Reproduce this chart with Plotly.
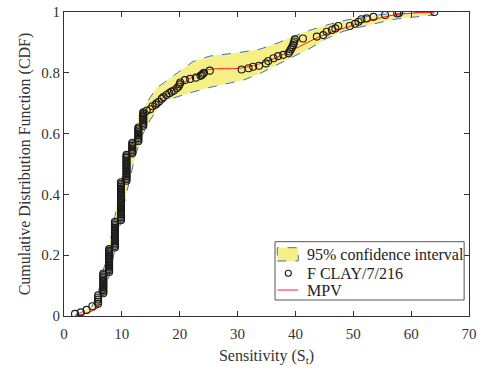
import plotly.graph_objects as go

# Observed data points (sensitivity, empirical CDF)
obs_x = [1.9, 2.9, 3.9, 4.9,
         5.9, 5.9, 5.9, 5.9, 5.9,
         6.8, 6.8, 6.8, 6.8, 6.8, 6.8, 6.8, 6.8, 6.8, 6.8, 6.8, 6.8, 6.8, 6.8,
         7.8, 7.8, 7.8, 7.8, 7.8, 7.8, 7.8, 7.8, 7.8, 7.8, 7.8, 7.8, 7.8, 7.8, 7.8, 7.8,
         8.8, 8.8, 8.8, 8.8, 8.8, 8.8, 8.8, 8.8, 8.8, 8.8, 8.8, 8.8, 8.8, 8.8, 8.8, 8.8, 8.8, 8.8,
         9.85, 9.85, 9.85, 9.85, 9.85, 9.85, 9.85, 9.85, 9.85, 9.85, 9.85, 9.85, 9.85,
         9.85, 9.85, 9.85, 9.85, 9.85, 9.85, 9.85, 9.85, 9.85, 9.85, 9.85, 9.85, 9.85,
         10.8, 10.8, 10.8, 10.8, 10.8, 10.8, 10.8, 10.8, 10.8, 10.8, 10.8, 10.8, 10.8, 10.8, 10.8, 10.8, 10.8, 10.8,
         11.8, 11.8, 11.8, 11.8, 11.8, 11.8, 11.8, 11.8,
         12.85, 12.85, 12.85, 12.85, 12.85, 12.85, 12.85, 12.85, 12.85, 12.85,
         13.7, 13.7, 13.7, 13.7, 13.7, 13.7, 13.7, 13.7, 13.7, 13.7,
         14.3, 14.9, 15.3, 15.8, 16.0, 16.4, 16.9, 17.2, 17.7, 18.2, 18.6, 19.0,
         19.5, 19.8, 20.0, 20.1, 20.9, 21.8, 22.8, 23.6, 23.8, 24.0, 24.2, 25.2,
         30.7, 31.9, 32.7, 33.7, 34.9, 35.3, 36.2, 37.0, 37.9,
         38.8, 39.0, 39.2, 39.4, 39.6, 39.7, 39.8, 39.9,
         41.3, 43.7, 44.8, 45.4, 46.3, 46.9, 47.4, 49.4, 50.3, 50.9, 51.4, 52.3,
         53.5, 55.5, 57.6, 57.9, 64.0]
obs_y = [0.007, 0.012, 0.020, 0.032,
         0.040, 0.047, 0.054, 0.061, 0.068,
         0.075, 0.080, 0.085, 0.090, 0.095, 0.100, 0.105, 0.110, 0.115, 0.120, 0.125, 0.130, 0.135, 0.140,
         0.145, 0.150, 0.155, 0.160, 0.165, 0.170, 0.175, 0.180, 0.185, 0.190, 0.195, 0.200, 0.205, 0.210, 0.215, 0.220,
         0.225, 0.230, 0.235, 0.240, 0.245, 0.250, 0.255, 0.260, 0.265, 0.270, 0.275, 0.280, 0.285, 0.290, 0.295, 0.300, 0.305, 0.310,
         0.315, 0.320, 0.325, 0.330, 0.335, 0.340, 0.345, 0.350, 0.355, 0.360, 0.365, 0.370, 0.375,
         0.380, 0.385, 0.390, 0.395, 0.400, 0.405, 0.410, 0.415, 0.420, 0.425, 0.430, 0.435, 0.440,
         0.445, 0.450, 0.455, 0.460, 0.465, 0.470, 0.475, 0.480, 0.485, 0.490, 0.495, 0.500, 0.505, 0.510, 0.515, 0.520, 0.525, 0.530,
         0.535, 0.540, 0.545, 0.550, 0.555, 0.560, 0.565, 0.570,
         0.575, 0.580, 0.585, 0.590, 0.595, 0.600, 0.605, 0.610, 0.615, 0.620,
         0.625, 0.630, 0.635, 0.640, 0.645, 0.650, 0.655, 0.660, 0.665, 0.670,
         0.675, 0.680, 0.690, 0.695, 0.700, 0.705, 0.715, 0.720, 0.727, 0.733, 0.738, 0.742,
         0.749, 0.755, 0.762, 0.768, 0.776, 0.780, 0.784, 0.790, 0.793, 0.797, 0.800, 0.807,
         0.811, 0.815, 0.820, 0.823, 0.831, 0.839, 0.848, 0.855, 0.859,
         0.864, 0.870, 0.877, 0.884, 0.891, 0.897, 0.903, 0.910,
         0.913, 0.919, 0.924, 0.935, 0.941, 0.946, 0.954, 0.954, 0.961, 0.968, 0.976, 0.979,
         0.984, 0.990, 0.995, 0.997, 1.000]

# Most probable value curve
mpv_x = [1.9, 3.0, 4.0, 5.0, 5.9, 6.8, 7.95, 9.1, 9.97, 10.8, 11.7, 12.85, 14.3,
         16.6, 19.5, 22.3, 25.2, 30.4, 35.0, 39.6, 44.2, 48.9, 57.0, 64.0]
mpv_y = [0.0, 0.004, 0.01, 0.018, 0.03, 0.107, 0.195, 0.283, 0.392, 0.48, 0.568, 0.60, 0.66,
         0.71, 0.752, 0.787, 0.811, 0.815, 0.837, 0.876, 0.919, 0.95, 0.99, 0.999]

# 95% confidence bounds
up_x = [1.9, 2.8, 4.8, 5.9, 6.8, 7.95, 8.8, 9.7, 10.8, 12.0, 12.85, 13.4, 16.0, 19.5,
        22.3, 25.2, 30.4, 33.9, 36.8, 39.6, 42.5, 45.4, 48.2, 51.1, 54.0, 57.0, 63.8]
up_y = [0.004, 0.01, 0.03, 0.075, 0.15, 0.24, 0.327, 0.425, 0.525, 0.577, 0.654, 0.676, 0.75, 0.80,
        0.837, 0.855, 0.867, 0.878, 0.897, 0.919, 0.94, 0.957, 0.971, 0.982, 0.99, 0.995, 1.0]
lo_x = [1.9, 2.8, 5.1, 6.2, 7.4, 8.2, 9.4, 10.3, 11.2, 12.3, 13.4, 14.9, 16.6, 17.7,
        19.5, 22.3, 25.2, 28.1, 31.0, 33.9, 36.8, 39.6, 42.5, 45.4, 48.2, 51.1, 57.0, 63.8]
lo_y = [0.0, 0.003, 0.015, 0.042, 0.097, 0.16, 0.27, 0.36, 0.436, 0.525, 0.59, 0.645, 0.694, 0.71,
        0.721, 0.737, 0.752, 0.765, 0.776, 0.798, 0.826, 0.853, 0.88, 0.913, 0.936, 0.95, 0.976, 0.99]

x_ticks = [0, 10, 20, 30, 40, 50, 60, 70]
y_ticks = [0, 0.2, 0.4, 0.6, 0.8, 1]
y_ticktext = ["0", "0.2", "0.4", "0.6", "0.8", "1"]

legend_labels = ["95% confidence interval", "F CLAY/7/216", "MPV"]

FONT = "Liberation Serif, Times New Roman, serif"
FILL = "#f6ef86"
DASH = "#3f6fc6"
RED = "#ff2020"

fig = go.Figure()
fig.add_trace(go.Scatter(
    x=up_x + lo_x[::-1], y=up_y + lo_y[::-1],
    fill="toself", fillcolor=FILL,
    line=dict(color=DASH, width=1, dash="dash"),
    mode="lines", name=legend_labels[0], showlegend=False, hoverinfo="skip"))
fig.add_trace(go.Scatter(
    x=mpv_x, y=mpv_y, mode="lines", name=legend_labels[2], line_shape="spline",
    line=dict(color=RED, width=1), showlegend=False))
fig.add_trace(go.Scatter(
    x=obs_x, y=obs_y, mode="markers", name=legend_labels[1], showlegend=False,
    marker=dict(symbol="circle-open", size=7, color="#1a1a1a", line=dict(width=1.1))))

axis_common = dict(showline=True, linecolor="#333333", linewidth=1, mirror="ticks",
                   ticks="inside", ticklen=5, tickcolor="#333333", showgrid=False,
                   zeroline=False, automargin=False, ticklabeloverflow="allow",
                   tickfont=dict(family=FONT, size=15, color="#333333"))

# Manual legend (paper coordinates)
shapes = [
    dict(type="rect", xref="paper", yref="paper", x0=0.521, x1=0.988, y0=0.0526, y1=0.2444,
         line=dict(color="#555555", width=1), fillcolor="white", layer="above"),
    dict(type="rect", xref="paper", yref="paper", x0=0.5267, x1=0.5785, y0=0.181, y1=0.2247,
         line=dict(color=DASH, width=1, dash="dash"), fillcolor=FILL, layer="above"),
    dict(type="circle", xref="paper", yref="paper", x0=0.5538 - 0.0075, x1=0.5538 + 0.0075,
         y0=0.1405 - 0.0099, y1=0.1405 + 0.0099,
         line=dict(color="#1a1a1a", width=1.1), layer="above"),
    dict(type="line", xref="paper", yref="paper", x0=0.5267, x1=0.5785, y0=0.0855, y1=0.0855,
         line=dict(color=RED, width=1), layer="above"),
]
annotations = [
    dict(xref="paper", yref="paper", x=0.595, y=yy, text=t, showarrow=False,
         xanchor="left", yanchor="middle", font=dict(family=FONT, size=16, color="#222222"))
    for t, yy in zip(legend_labels, [0.203, 0.1405, 0.0855])
]

fig.update_layout(
    width=485, height=371,
    margin=dict(l=64, r=16, t=12, b=55),
    plot_bgcolor="white", paper_bgcolor="white",
    font=dict(family=FONT, size=15, color="#333333"),
    xaxis=dict(range=[0, 70], tickvals=x_ticks, ticklabelstandoff=4,
               title=dict(text="Sensitivity (S<sub>t</sub>)", font=dict(family=FONT, size=16), standoff=8),
               **axis_common),
    yaxis=dict(range=[0, 1], tickvals=y_ticks, ticktext=y_ticktext,
               title=dict(text="Cumulative Distribution Function (CDF)", font=dict(family=FONT, size=16), standoff=6),
               **axis_common),
    shapes=shapes,
    annotations=annotations,
    showlegend=False,
    hovermode=False,
)

# Remove the page's default body margin so the figure sits at the window's corner.
fig.write_html("out.html", post_script="document.body.style.margin='0';",
               config={"displayModeBar": False, "staticPlot": True})
